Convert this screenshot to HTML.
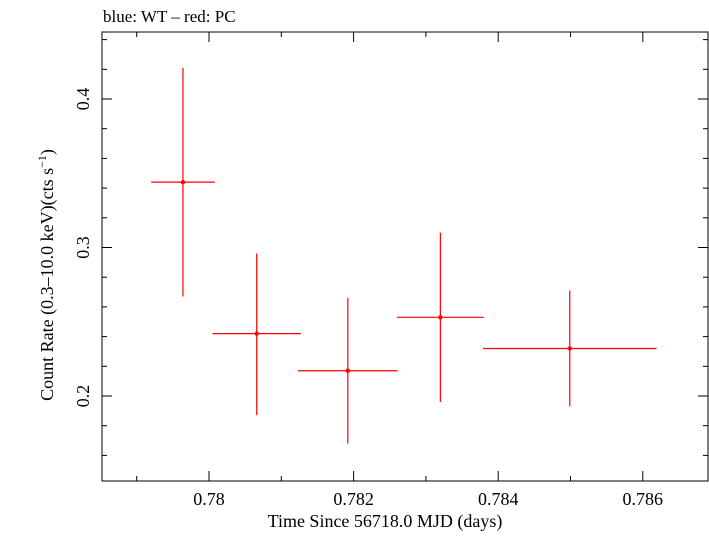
<!DOCTYPE html>
<html><head><meta charset="utf-8"><style>
body{margin:0;background:#fff;}
svg text{font-family:"Liberation Serif",serif;fill:#000;}
</style></head><body>
<svg id="chart" width="709" height="532" xmlns="http://www.w3.org/2000/svg">
<text x="103" y="22" font-size="17">blue: WT – red: PC</text>
<rect x="102" y="32" width="606" height="449" fill="none" stroke="#000" stroke-width="1"/>
<g id="ticks"></g>
<g id="marks"></g>
<text x="385" y="527" font-size="18" text-anchor="middle">Time Since 56718.0 MJD (days)</text>
<text transform="translate(53,275) rotate(-90)" font-size="18" text-anchor="middle">Count Rate (0.3–10.0 keV)(cts s<tspan dy="-7" font-size="12">−1</tspan><tspan dy="7">)</tspan></text>
</svg>
<script>
const xCenters=[0.77964,0.78066,0.78192,0.78320,0.78499];
const xErrs=[0.00044,0.00061,0.00069,0.0006,0.0012];
const yValues=[0.344,0.242,0.217,0.253,0.232];
const yErrUp=[0.077,0.054,0.049,0.057,0.039];
const yErrDown=[0.077,0.055,0.049,0.057,0.039];
const xTickLabels=["0.78","0.782","0.784","0.786"];
const yTickLabels=["0.2","0.3","0.4"];
const X=v=>209+(v-0.78)*72300;
const Y=v=>99+(0.4-v)*1485;
const NS="http://www.w3.org/2000/svg";
function mk(tag,attrs,parent){const e=document.createElementNS(NS,tag);for(const k in attrs)e.setAttribute(k,attrs[k]);parent.appendChild(e);return e;}
const tg=document.getElementById('ticks');
for(let i=0;i<9;i++){const v=0.779+i*0.001;const x=X(v);if(x<102||x>708)continue;const major=i%2===1;const L=major?10:5;
const t1=mk('line',{x1:x,x2:x,y1:481,y2:481-L,stroke:'#000'},tg);


const t2=mk('line',{x1:x,x2:x,y1:32,y2:32+L,stroke:'#000'},tg);

}
xTickLabels.forEach(s=>{const t=mk('text',{x:X(parseFloat(s)),y:505,'font-size':18,'text-anchor':'middle'},tg);t.textContent=s;

});
for(let i=0;i<16;i++){const v=0.14+i*0.02;const y=Y(v);if(y<32||y>481)continue;const major=Math.abs((v*10)-Math.round(v*10))<1e-6;const L=major?10:5;
const t1=mk('line',{x1:102,x2:102+L,y1:y,y2:y,stroke:'#000'},tg);


const t2=mk('line',{x1:708,x2:708-L,y1:y,y2:y,stroke:'#000'},tg);

}
yTickLabels.forEach(s=>{const y=Y(parseFloat(s));const t=mk('text',{transform:`translate(89,${y}) rotate(-90)`,'font-size':18,'text-anchor':'middle'},tg);t.textContent=s;

});
const mg=document.getElementById('marks');
xCenters.forEach((xc,i)=>{
const h=mk('line',{x1:X(xc-xErrs[i]),x2:X(xc+xErrs[i]),y1:Y(yValues[i]),y2:Y(yValues[i]),stroke:'#f00','stroke-width':1.2},mg);


const v=mk('line',{x1:X(xc),x2:X(xc),y1:Y(yValues[i]+yErrUp[i]),y2:Y(yValues[i]-yErrDown[i]),stroke:'#f00','stroke-width':1.2},mg);


const p=mk('circle',{cx:X(xc),cy:Y(yValues[i]),r:2.2,fill:'#f00'},mg);


});
</script>
</body></html>
